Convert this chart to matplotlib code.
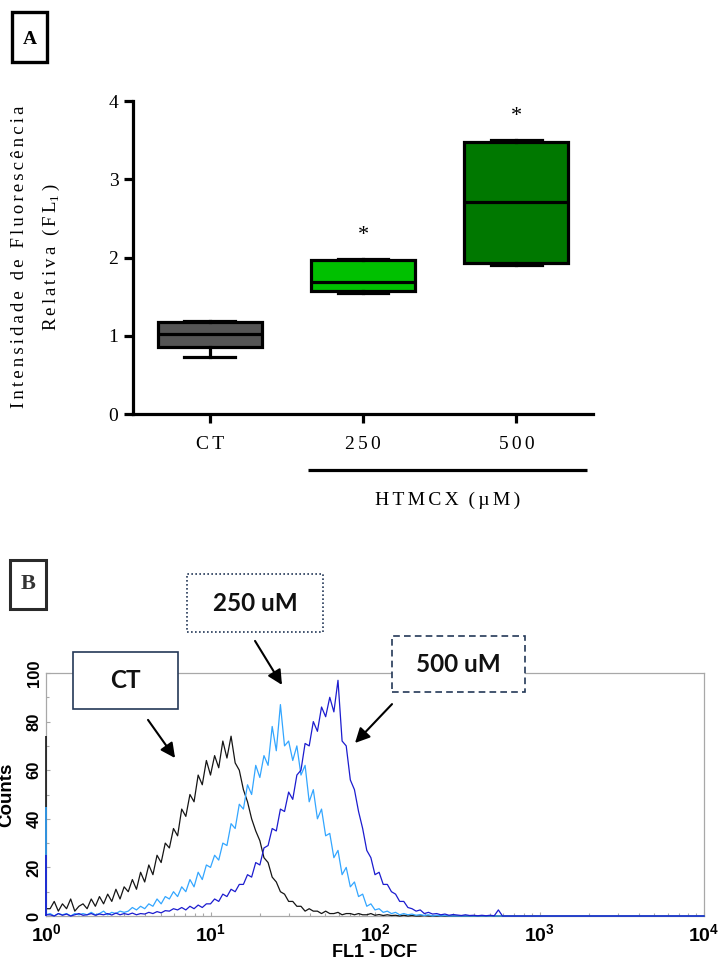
import numpy as np
import matplotlib
matplotlib.use("Agg")
import matplotlib.pyplot as plt
import matplotlib.transforms as mtransforms
from matplotlib.patches import Rectangle
from matplotlib.ticker import MultipleLocator, LogLocator, NullFormatter

plt.rcParams['font.family'] = 'Liberation Serif'

# ---------------- A: intensidade de fluorescencia (box plot) ----------------
grupos = ["CT", "250", "500"]
w_min = [0.73, 1.55, 1.90]
q1 = [0.86, 1.57, 1.93]
mediana = [1.02, 1.69, 2.71]
q3 = [1.17, 1.97, 3.48]
w_max = [1.19, 1.98, 3.50]
signif = [False, True, True]
cores_caixa = ["#555555", "#00c000", "#007800"]

# ---------------- B: histogramas FL1-DCF (canais a cada 0.025 decada) ----------------
passo = 0.025
canal1 = [74, 45, 25]          # contagens acumuladas no primeiro canal (CT, 250, 500)
ct = [3, 3, 6, 2, 5, 3, 7, 2, 4, 5,
      3, 7, 4, 8, 5, 9, 6, 11, 7, 12,
      10, 15, 11, 18, 14, 21, 17, 25, 22, 30,
      28, 36, 33, 44, 41, 50, 47, 58, 54, 64,
      58, 66, 61, 72, 65, 74, 63, 60, 52, 47,
      40, 35, 31, 24, 22, 16, 14, 10, 9, 6,
      6, 4, 4, 2, 3, 2, 2, 1, 2, 1,
      1, 1.5, 0.5, 1, 1, 0.5, 1, 0.5, 0.5, 1,
      0.3, 0.6, 0.2, 0.5, 0.2, 0.3, 0, 0.3, 0, 0.2,
      0, 0, 0.2, 0, 0, 0, 0, 0, 0, 0,
      0, 0, 0, 0, 0, 0, 0, 0, 0, 0,
      0, 0, 0]
h250 = [0.5, 1, 0, 1, 0.5, 1, 0, 1, 0.5, 1,
        0.5, 1.5, 0.5, 1, 2, 0.5, 1.5, 1, 2, 1.5,
        2, 3.5, 2.5, 4, 3, 5, 4, 7, 5, 8,
        7, 10, 8, 12, 10, 15, 12, 18, 15, 21,
        20, 25, 23, 30, 29, 38, 36, 46, 44, 54,
        50, 62, 57, 66, 62, 78, 68, 87, 70, 72,
        64, 70, 58, 62, 47, 52, 40, 44, 33, 34,
        24, 27, 17, 20, 12, 14, 8, 9, 4, 5,
        2.5, 3, 1.5, 2, 1, 1.5, 0.5, 1, 0.5, 0.8,
        0.3, 0.6, 0.2, 0.5, 0, 0.3, 0, 0.2, 0, 0,
        0, 0, 0, 0, 0, 0, 0, 0, 0, 0,
        0, 0, 0]
h500 = [0.5, 0.5, 0, 1, 0.3, 0.8, 0, 0.5, 1, 0.3,
        0.5, 1, 0.3, 0.8, 0.5, 1, 0.4, 1.2, 0.5, 1,
        0.6, 1.2, 0.5, 1, 0.8, 1.5, 1, 1.8, 1.3, 2.2,
        2, 3, 2.5, 3.5, 2.5, 4, 3, 4.5, 3.5, 5,
        5, 7, 6, 9, 8, 11, 10, 13, 13, 17,
        16, 22, 21, 28, 29, 36, 35, 44, 43, 51,
        48, 58, 60, 71, 70, 80, 76, 86, 82, 90,
        84, 97, 72, 70, 56, 52, 43, 36, 27, 24,
        17, 18, 13, 13, 10, 9, 6, 6, 3.5, 3,
        2, 2.5, 1, 1.5, 0.8, 1, 0.5, 0.8, 0.3, 0.6,
        0.4, 0.2, 0.5, 0.2, 0.3, 0.1, 0.3, 0.1, 0.3, 0.1,
        2.5, 0, 0]
cores_hist = ["#151515", "#33a6ff", "#1c1ccf"]
rotulos_hist = ["CT", "250 uM", "500 uM"]


def espacar(s):
    # letras espacadas (six-per-em space)
    return "\u2006".join(s)


fig = plt.figure(figsize=(7.18, 9.63), dpi=100)
W, H = 718.0, 963.0

# ================= painel A =================
axA = fig.add_axes([133 / W, 1 - 414 / H, 460 / W, 313 / H])
stats = [dict(med=m, q1=a, q3=b, whislo=lo, whishi=hi, fliers=[])
         for lo, a, m, b, hi in zip(w_min, q1, mediana, q3, w_max)]
lw = 2.3
bp = axA.bxp(stats, positions=range(len(grupos)), widths=0.68, capwidths=0.33,
             patch_artist=True, showfliers=False,
             boxprops=dict(linewidth=lw, edgecolor='black'),
             medianprops=dict(color='black', linewidth=lw),
             whiskerprops=dict(color='black', linewidth=lw),
             capprops=dict(color='black', linewidth=lw))
for caixa, c in zip(bp['boxes'], cores_caixa):
    caixa.set_facecolor(c)

for i, s in enumerate(signif):
    if s:
        axA.text(i, w_max[i] + 0.3, "*", ha='center', va='center', fontsize=16)

axA.set_xlim(-0.5, 2.5)
axA.set_ylim(0, 4)
axA.set_yticks([0, 1, 2, 3, 4])
axA.set_xticks(range(len(grupos)))
axA.set_xticklabels([espacar(g) for g in grupos])
for lado in ['top', 'right']:
    axA.spines[lado].set_visible(False)
for lado in ['left', 'bottom']:
    axA.spines[lado].set_linewidth(lw)
axA.tick_params(axis='both', width=lw, length=6.5, labelsize=14)
axA.tick_params(axis='x', pad=9)
axA.tick_params(axis='y', pad=4)

trans = mtransforms.blended_transform_factory(axA.transData, axA.transAxes)
axA.plot([0.64, 2.46], [-0.179, -0.179], color='black', lw=lw, transform=trans,
         clip_on=False, solid_capstyle='butt')
axA.text(1.55, -0.275, espacar("HTMCX") + "  (\u2006\u00b5\u2006M\u2006)",
         transform=trans, ha='center', va='center', fontsize=14)

fig.text(20 / W, 1 - 257 / H, espacar("Intensidade de Fluorescência"),
         rotation=90, ha='center', va='center', fontsize=13.5)
fig.text(51 / W, 1 - 257 / H, espacar("Relativa (FL") + r"$_{\mathdefault{1}}$" + "\u2006)",
         rotation=90, ha='center', va='center', fontsize=13.5)

fig.add_artist(Rectangle((12 / W, 1 - 62 / H), 35 / W, 50 / H, transform=fig.transFigure,
                         fill=False, edgecolor='black', linewidth=2.4))
fig.text(29.5 / W, 1 - 39 / H, "A", ha='center', va='center', fontsize=14,
         fontweight='bold')

# ================= painel B =================
axB = fig.add_axes([46 / W, 1 - 916 / H, 658 / W, 243 / H])
axB.set_xscale('log')
canais = 10 ** (np.arange(len(ct)) * passo)
x = np.append(canais, 1e4)
for serie, c, n1, z in zip([ct, h250, h500], cores_hist, canal1, [3, 4, 5]):
    axB.plot(x, np.append(serie, 0), color=c, lw=0.9, zorder=z, clip_on=False)
    axB.vlines(1, 0, n1, color=c, lw=1.2, zorder=z, clip_on=False)

axB.set_xlim(1, 1e4)
axB.set_ylim(0, 100)
for lado in axB.spines:
    axB.spines[lado].set_color('#a8a8a8')
    axB.spines[lado].set_linewidth(0.9)
axB.yaxis.set_major_locator(MultipleLocator(20))
axB.yaxis.set_minor_locator(MultipleLocator(10))
axB.xaxis.set_major_locator(LogLocator(base=10, numticks=10))
axB.xaxis.set_minor_locator(LogLocator(base=10, subs=np.arange(2, 10), numticks=10))
axB.xaxis.set_minor_formatter(NullFormatter())
axB.tick_params(which='both', direction='in', color='#a8a8a8', width=0.8)
axB.tick_params(which='major', length=3)
axB.tick_params(which='minor', length=2)
axB.tick_params(axis='x', pad=5)
axB.tick_params(axis='y', pad=3)
for t in axB.get_xticklabels():
    t.set_fontfamily('Liberation Sans')
    t.set_fontweight('bold')
    t.set_fontsize(14)
for t in axB.get_yticklabels():
    t.set_fontfamily('Liberation Sans')
    t.set_fontweight('bold')
    t.set_fontsize(12)
    t.set_rotation(90)
    t.set_va('center')

axB.set_xlabel("FL1 - DCF", fontfamily='Liberation Sans', fontweight='bold',
               fontsize=13, va='center')
axB.xaxis.set_label_coords(0.5, -0.152)
axB.set_ylabel("Counts", fontfamily='Liberation Sans', fontweight='bold',
               fontsize=13.5, va='center')
axB.yaxis.set_label_coords(-0.059, 0.5)

# caixas de legenda e setas
caixas = [((1.46, 85.2), (6.34, 108.6), '-'),
          ((7.2, 116.9), (48.3, 140.7), (0, (1, 1.4))),
          ((126.9, 92.2), (816, 115.2), (0, (4, 2.5)))]
for rot, ((x0, y0), (x1, y1), estilo) in zip(rotulos_hist, caixas):
    axB.add_patch(Rectangle((x0, y0), x1 - x0, y1 - y0, facecolor='white',
                            edgecolor='#243858', lw=1.2, linestyle=estilo,
                            clip_on=False, zorder=10))
    axB.text(np.sqrt(x0 * x1), (y0 + y1) / 2, rot, ha='center', va='center',
             fontfamily='Lato', fontweight='bold', fontsize=17.5, color='#111111',
             zorder=11, clip_on=False)

setas = [((4.17, 80.7), (6.09, 65.0)),
         ((18.65, 113.2), (27.2, 95.1)),
         ((126.9, 87.2), (75.6, 71.2))]
for cauda, ponta in setas:
    axB.annotate("", xy=ponta, xytext=cauda, annotation_clip=False, zorder=12,
                 arrowprops=dict(arrowstyle='-|>', color='black', lw=1.5,
                                 mutation_scale=22, shrinkA=0, shrinkB=0))

fig.add_artist(Rectangle((10 / W, 1 - 609 / H), 36 / W, 49 / H, transform=fig.transFigure,
                         fill=False, edgecolor='#2a2a2a', linewidth=2.2))
fig.text(28 / W, 1 - 584 / H, "B", ha='center', va='center', fontsize=16,
         fontweight='bold', color='#333333')

fig.savefig("out.png", dpi=100)
